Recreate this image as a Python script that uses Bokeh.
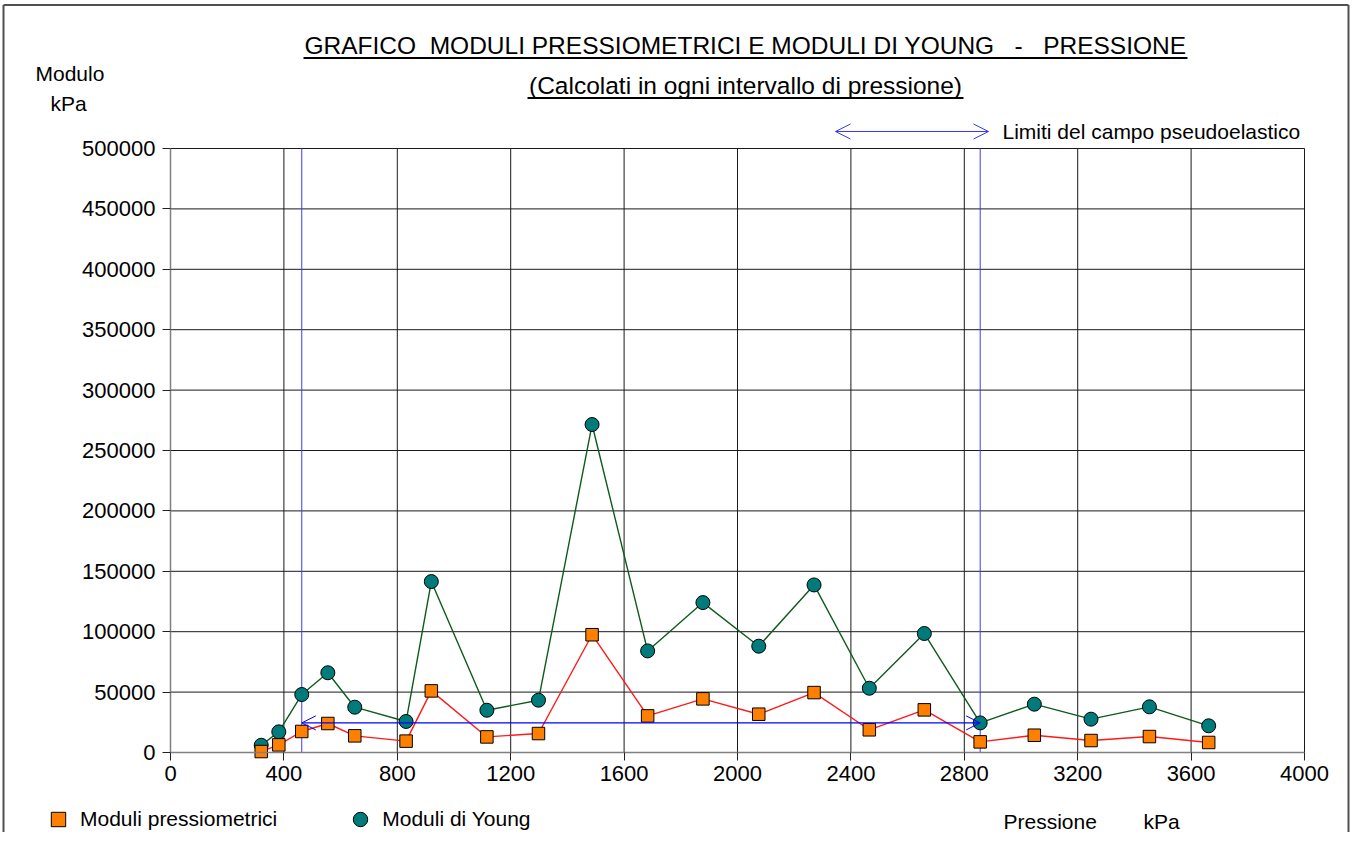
from bokeh.plotting import figure
from bokeh.models import (Label, Arrow, OpenHead, Legend, LegendItem, Range1d,
                          FixedTicker, BasicTickFormatter, LinearAxis)
from bokeh.embed import file_html
from bokeh.resources import INLINE

# ---------------- data ----------------
pressione = [320, 382, 463, 555, 650, 831, 920, 1116, 1298, 1487, 1683,
             1878, 2075, 2270, 2465, 2659, 2856, 3047, 3247, 3453, 3662]
moduli_pressiometrici = [800, 6300, 17400, 24000, 13800, 9400, 51000, 12900, 15700,
                         97500, 30300, 44400, 31700, 49600, 18800, 35300, 8800,
                         14300, 9900, 13200, 8300]
moduli_young = [6000, 17100, 48000, 66000, 37500, 25700, 141500, 35000, 43300,
                271500, 84100, 124100, 88000, 138700, 53200, 98500, 24500,
                40000, 27600, 37800, 22100]
limite_inferiore = 463      # kPa
limite_superiore = 2856     # kPa
modulo_limite = 24500
x_ticks = list(range(0, 4001, 400))
y_ticks = list(range(0, 500001, 50000))

FONT = "Liberation Sans"
NB = "\u00a0"

# canvas and plot-area geometry (pixels)
W, H = 1350, 832
FL, FR, FT, FB = 170, 1304, 148, 752
X0, X1, Y0, Y1 = 0, 4000, 0, 500000
SX = (FR - FL) / (X1 - X0)
SY = (FB - FT) / (Y1 - Y0)


def dx(px):
    return X0 + (px - FL) / SX


def dy(py):
    return Y0 + (FB - py) / SY


p = figure(width=W, height=H,
           x_range=Range1d(dx(0), dx(W)), y_range=Range1d(dy(H), dy(0)),
           output_backend="svg", toolbar_location=None,
           x_axis_location=None, y_axis_location=None, min_border=0)
p.background_fill_color = "white"
p.border_fill_color = "white"
p.outline_line_color = None
p.xgrid.visible = False
p.ygrid.visible = False

# grid lines over the plotting area
gx = [t for t in x_ticks if t > X0]
gy = [t for t in y_ticks if t > Y0]
p.segment(x0=gx, y0=[Y0] * len(gx), x1=gx, y1=[Y1] * len(gx),
          line_color="#1a1a1a", line_width=1)
p.segment(x0=[X0] * len(gy), y0=gy, x1=[X1] * len(gy), y1=gy,
          line_color="#1a1a1a", line_width=1)

# axes
xaxis = LinearAxis(fixed_location=Y0, bounds=(X0, X1), ticker=FixedTicker(ticks=x_ticks))
yaxis = LinearAxis(fixed_location=X0, bounds=(Y0, Y1), ticker=FixedTicker(ticks=y_ticks),
                   formatter=BasicTickFormatter(use_scientific=False))
for ax in (xaxis, yaxis):
    ax.axis_line_color = "#808080"
    ax.axis_line_width = 1.5
    ax.major_tick_line_color = "#222222"
    ax.major_tick_in = 0
    ax.major_tick_out = 8
    ax.minor_tick_line_color = None
    ax.major_label_text_font = FONT
    ax.major_label_text_font_size = "22px"
    ax.major_label_text_color = "black"
xaxis.major_label_standoff = 5
yaxis.major_label_standoff = 7
p.add_layout(xaxis, "below")
p.add_layout(yaxis, "left")

# limits of pseudo-elastic range
p.segment(x0=[limite_inferiore, limite_superiore], y0=[Y0, Y0],
          x1=[limite_inferiore, limite_superiore], y1=[Y1, Y1],
          line_color="#3a3aff", line_width=1)
p.add_layout(Arrow(x_start=limite_inferiore, y_start=modulo_limite,
                   x_end=limite_superiore, y_end=modulo_limite,
                   line_color="#0000ff", line_width=1.2,
                   start=OpenHead(size=14, line_color="#0000ff", line_width=1),
                   end=OpenHead(size=14, line_color="#0000ff", line_width=1)))

# series
p.line(pressione, moduli_young, line_color="#0f5a1c", line_width=1.4)
p.line(pressione, moduli_pressiometrici, line_color="#ff1a1a", line_width=1.4)
r_young = p.scatter(pressione, moduli_young, marker="circle", size=14,
                    fill_color="#007b7b", line_color="black", line_width=1)
r_press = p.scatter(pressione, moduli_pressiometrici, marker="square", size=12.5,
                    fill_color="#ff8000", line_color="black", line_width=1)

# legend (bottom-left, below the axis)
legend = Legend(items=[LegendItem(label="Moduli pressiometrici", renderers=[r_press]),
                       LegendItem(label="Moduli di Young", renderers=[r_young])],
                orientation="horizontal", location=(40, H - (819 + 18)),
                padding=0, margin=0, spacing=65, label_standoff=4,
                glyph_width=36, glyph_height=36,
                background_fill_alpha=0, border_line_alpha=0,
                label_text_font=FONT, label_text_font_size="21px",
                label_text_color="black")
p.add_layout(legend)


def text(px, py, s, size="21px", align="left"):
    p.add_layout(Label(x=dx(px), y=dy(py), text=s, text_font=FONT,
                       text_font_size=size, text_align=align,
                       text_baseline="middle", text_color="black"))


def rule(px0, py0, px1, py1, color="black", width=1.0):
    p.add_layout(Arrow(x_start=dx(px0), y_start=dy(py0), x_end=dx(px1), y_end=dy(py1),
                       start=None, end=None, line_color=color, line_width=width))


# titles
text(745, 45, "GRAFICO" + NB + " MODULI PRESSIOMETRICI E MODULI DI YOUNG"
     + NB + NB + " -" + NB + NB + " PRESSIONE", size="24.5px", align="center")
rule(303, 57.5, 1187, 57.5, width=2)
text(745, 85, "(Calcolati in ogni intervallo di pressione)", size="24.5px", align="center")
rule(527, 97.5, 963, 97.5, width=2)

# axis titles
text(35, 73, "Modulo")
text(50, 103, "kPa")
text(1003, 821, "Pressione")
text(1143, 821, "kPa")

# limits legend
text(1002, 131, "Limiti del campo pseudoelastico")
p.add_layout(Arrow(x_start=dx(835), y_start=dy(131), x_end=dx(988), y_end=dy(131),
                   line_color="#3a3aff", line_width=1.2,
                   start=OpenHead(size=15, line_color="#3a3aff", line_width=1),
                   end=OpenHead(size=15, line_color="#3a3aff", line_width=1)))

# outer chart border (left, top, right)
rule(3, 4.5, W - 2, 4.5, color="#505050", width=2)
rule(3, 4.5, 3, H, color="#505050", width=2)
rule(W - 2, 4.5, W - 2, H, color="#505050", width=2)

open("out.html", "w").write(file_html(p, INLINE))
